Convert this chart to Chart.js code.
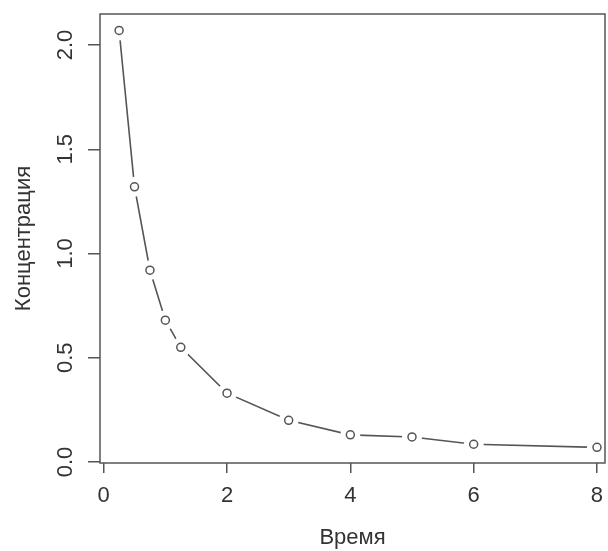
<!DOCTYPE html>
<html>
<head>
<meta charset="utf-8">
<script src="https://cdn.jsdelivr.net/npm/chart.js@4"></script>
<style>
  html, body { margin: 0; padding: 0; background: #fff; }
  #wrap { width: 608px; height: 551px; }
</style>
</head>
<body>
<div id="wrap"><canvas id="concChart"></canvas></div>
<script>
// Time (h) and measured concentration
const time = [0.25, 0.5, 0.75, 1, 1.25, 2, 3, 4, 5, 6, 8];
const conc = [2.07, 1.32, 0.92, 0.68, 0.55, 0.33, 0.20, 0.13, 0.12, 0.085, 0.07];

const xTicks = [0, 2, 4, 6, 8];
const yTicks = [0, 0.5, 1, 1.5, 2];
const yTickLabels = ['0.0', '0.5', '1.0', '1.5', '2.0'];

const ink = '#555';
const textInk = '#333';
const fontFamily = '"Liberation Sans", Arial, sans-serif';

const pts = time.map((t, i) => ({ x: t, y: conc[i] }));

// R-style box around the plot plus vertical y tick labels
const boxAndLabels = {
  id: 'boxAndLabels',
  afterDraw(chart) {
    const { ctx, chartArea: a, scales } = chart;
    ctx.save();
    ctx.strokeStyle = ink;
    ctx.lineWidth = 1.5;
    ctx.strokeRect(a.left, a.top, a.right - a.left, a.bottom - a.top);

    ctx.fillStyle = textInk;
    ctx.font = '22px ' + fontFamily;
    ctx.textAlign = 'center';
    ctx.textBaseline = 'middle';
    yTicks.forEach((v, i) => {
      const y = scales.y.getPixelForValue(v);
      ctx.save();
      ctx.translate(66, y);
      ctx.rotate(-Math.PI / 2);
      ctx.fillText(yTickLabels[i], 0, 0);
      ctx.restore();
    });
    ctx.restore();
  }
};

new Chart(document.getElementById('concChart'), {
  type: 'scatter',
  data: {
    datasets: [{
      // open circles
      data: pts,
      order: 0,
      showLine: false,
      pointRadius: 4,
      pointBackgroundColor: '#fff',
      pointBorderColor: ink,
      pointBorderWidth: 1.5
    }, {
      // white halo so the line stops short of each point
      data: pts,
      order: 1,
      showLine: false,
      pointRadius: 10,
      pointBackgroundColor: '#fff',
      pointBorderWidth: 0
    }, {
      data: pts,
      order: 2,
      showLine: true,
      borderColor: ink,
      borderWidth: 1.6,
      pointRadius: 0,
      tension: 0
    }]
  },
  options: {
    responsive: true,
    maintainAspectRatio: false,
    animation: false,
    events: [],
    layout: { autoPadding: false, padding: { top: 14, right: 3, left: 0, bottom: 0 } },
    plugins: {
      legend: { display: false },
      tooltip: { enabled: false }
    },
    scales: {
      x: {
        type: 'linear',
        min: -0.06,
        max: 8.13,
        afterBuildTicks: s => { s.ticks = xTicks.map(v => ({ value: v })); },
        afterFit: s => { s.height = 88; s.paddingLeft = 0; s.paddingRight = 0; },
        grid: { drawOnChartArea: false, drawTicks: true, tickLength: 10, color: ink, lineWidth: 1.5 },
        border: { display: false },
        ticks: {
          color: textInk,
          padding: 10,
          maxRotation: 0,
          font: { family: fontFamily, size: 22 }
        },
        title: {
          display: true,
          text: 'Время',
          color: textInk,
          padding: { top: 0, bottom: 0 },
          font: { family: fontFamily, size: 22 }
        }
      },
      y: {
        type: 'linear',
        min: -0.005,
        max: 2.149,
        afterBuildTicks: s => { s.ticks = yTicks.map(v => ({ value: v })); },
        afterFit: s => { s.width = 100; s.paddingTop = 0; s.paddingBottom = 0; },
        grid: { drawOnChartArea: false, drawTicks: true, tickLength: 12, color: ink, lineWidth: 1.5 },
        border: { display: false },
        ticks: { display: false },
        title: {
          display: true,
          text: 'Концентрация',
          color: textInk,
          padding: { top: 11, bottom: 0 },
          font: { family: fontFamily, size: 22 }
        }
      }
    }
  },
  plugins: [boxAndLabels]
});
</script>
</body>
</html>
